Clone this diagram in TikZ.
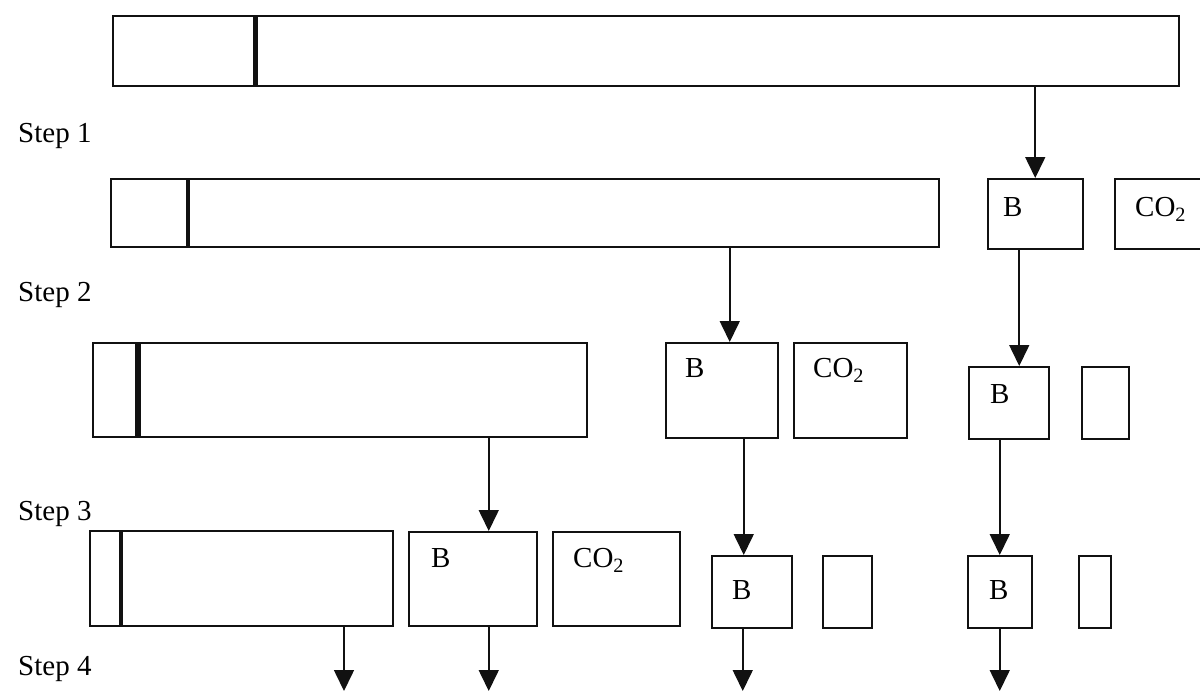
\documentclass[tikz,border=0pt]{standalone}
\usepackage{fontspec}
\setmainfont{Liberation Serif}
\usetikzlibrary{arrows.meta,positioning}
\definecolor{FlowInk}{HTML}{111111}

\tikzset{
  cell/.style={draw=FlowInk,line width=1.5pt,inner sep=0pt,anchor=north west},
  divider/.style={draw=FlowInk,line width=5pt},
  arr/.style={draw=FlowInk,line width=1.6pt,-{Triangle[length=21pt,width=20pt]}},
  txt/.style={inner sep=0pt,anchor=north west,font=\fontsize{29}{34}\selectfont},
  steplbl/.style={inner sep=0pt,anchor=base west,font=\fontsize{29}{34}\selectfont}
}

\begin{document}
\begin{tikzpicture}[x=1pt,y=-1pt]
\path[use as bounding box] (0,0) rectangle (1200,691);
\coordinate (foot) at (0,691);

\node[steplbl] (st1) at (18,142) {Step 1};
\node[steplbl] (st2) at (18,301) {Step 2};
\node[steplbl] (st3) at (18,520) {Step 3};
\node[steplbl] (st4) at (18,675) {Step 4};

\node[cell,minimum width=1066pt,minimum height=70pt] (bar0) at (112,15) {};
\draw[divider] (255,15) -- (255,85);

\node[cell,minimum width=828pt,minimum height=68pt] (bar1) at (110,178) {};
\draw[divider,line width=4pt] (188,178) -- (188,246);
\node[cell,minimum width=95pt,minimum height=70pt] (b1) at (987,178) {};
\node[cell,minimum width=86pt,minimum height=70pt] (c1) at (1114,178) {};
\node[txt,below right=19pt and 16pt of b1.north west] (tb1) {B};
\node[txt,below right=19pt and 21pt of c1.north west] (tc1) {CO\textsubscript{2}};

\node[cell,minimum width=494pt,minimum height=94pt] (bar2) at (92,342) {};
\draw[divider,line width=6pt] (138,342) -- (138,436);
\node[cell,minimum width=112pt,minimum height=95pt] (b2) at (665,342) {};
\node[cell,minimum width=113pt,minimum height=95pt] (c2) at (793,342) {};
\node[cell,minimum width=80pt,minimum height=72pt] (b1n) at (968,366) {};
\node[cell,minimum width=47pt,minimum height=72pt] (s1) at (1081,366) {};
\node[txt,below right=16pt and 20pt of b2.north west] (tb2) {B};
\node[txt,below right=16pt and 20pt of c2.north west] (tc2) {CO\textsubscript{2}};
\node[txt,below right=18pt and 22pt of b1n.north west] (tb1n) {B};

\node[cell,minimum width=303pt,minimum height=95pt] (bar3) at (89,530) {};
\draw[divider,line width=4pt] (121,530) -- (121,625);
\node[cell,minimum width=128pt,minimum height=94pt] (b3) at (408,531) {};
\node[cell,minimum width=127pt,minimum height=94pt] (c3) at (552,531) {};
\node[cell,minimum width=80pt,minimum height=72pt] (b2n) at (711,555) {};
\node[cell,minimum width=49pt,minimum height=72pt] (s2) at (822,555) {};
\node[cell,minimum width=64pt,minimum height=72pt] (b1nn) at (967,555) {};
\node[cell,minimum width=32pt,minimum height=72pt] (s3) at (1078,555) {};
\node[txt,below right=17pt and 23pt of b3.north west] (tb3) {B};
\node[txt,below right=17pt and 21pt of c3.north west] (tc3) {CO\textsubscript{2}};
\node[txt,below right=25pt and 21pt of b2n.north west] (tb2n) {B};
\node[txt,below right=25pt and 22pt of b1nn.north west] (tb1nn) {B};

\coordinate (a2) at ([xshift=8pt]b2.north);
\coordinate (a3) at ([xshift=-16pt]b1.south);
\coordinate (a4) at ([xshift=16pt]b3.north);
\coordinate (a5) at ([xshift=22pt]b2.south);
\coordinate (a6) at ([xshift=-9pt]b1n.south);
\coordinate (a7) at ([xshift=255pt]bar3.south west);
\coordinate (a8) at ([xshift=16pt]b3.south);
\coordinate (a9) at ([xshift=-9pt]b2n.south);

\draw[arr] (b1.north |- bar0.south) -- (b1.north);
\draw[arr] (a2 |- bar1.south) -- (a2);
\draw[arr] (a3) -- (a3 |- b1n.north);
\draw[arr] (a4 |- bar2.south) -- (a4);
\draw[arr] (a5) -- (a5 |- b2n.north);
\draw[arr] (a6) -- (a6 |- b1nn.north);
\draw[arr] (a7) -- (a7 |- foot);
\draw[arr] (a8) -- (a8 |- foot);
\draw[arr] (a9) -- (a9 |- foot);
\draw[arr] (b1nn.south) -- (b1nn.south |- foot);
\end{tikzpicture}
\end{document}
